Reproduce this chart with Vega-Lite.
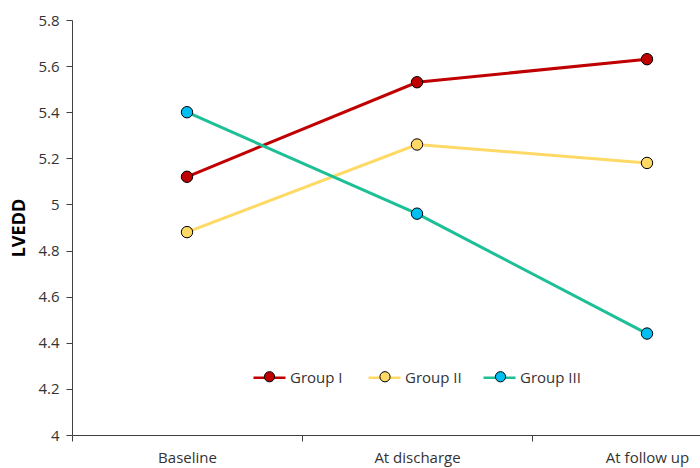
{
  "$schema": "https://vega.github.io/schema/vega-lite/v6.json",
  "width": 628,
  "height": 415,
  "autosize": {"type": "none"},
  "padding": {"left": 72, "top": 20, "right": 0, "bottom": 33},
  "background": "white",
  "config": {
    "view": {"stroke": null},
    "font": "Open Sans",
    "axis": {
      "grid": false,
      "domainColor": "#404040",
      "tickColor": "#404040",
      "labelColor": "#333333",
      "labelFont": "Open Sans",
      "labelFontSize": 15,
      "domainWidth": 1,
      "tickWidth": 1,
      "tickSize": 6
    }
  },
  "resolve": {"legend": {"stroke": "independent", "fill": "independent"}},
  "data": {
    "values": [
      {"group": "Group I", "time": "Baseline", "value": 5.12},
      {"group": "Group I", "time": "At discharge", "value": 5.53},
      {"group": "Group I", "time": "At follow up", "value": 5.63},
      {"group": "Group II", "time": "Baseline", "value": 4.88},
      {"group": "Group II", "time": "At discharge", "value": 5.26},
      {"group": "Group II", "time": "At follow up", "value": 5.18},
      {"group": "Group III", "time": "Baseline", "value": 5.40},
      {"group": "Group III", "time": "At discharge", "value": 4.96},
      {"group": "Group III", "time": "At follow up", "value": 4.44}
    ]
  },
  "encoding": {
    "x": {
      "field": "time",
      "type": "nominal",
      "sort": ["Baseline", "At discharge", "At follow up"],
      "scale": {"type": "band", "range": [0, 690], "paddingInner": 0, "paddingOuter": 0},
      "axis": {"title": null, "labelAngle": 0, "tickBand": "extent", "labelPadding": 9}
    },
    "y": {
      "field": "value",
      "type": "quantitative",
      "scale": {"domain": [4, 5.8], "nice": false, "zero": false},
      "axis": {
        "values": [4, 4.2, 4.4, 4.6, 4.8, 5, 5.2, 5.4, 5.6, 5.8],
        "format": "~f",
        "title": "LVEDD",
        "titleFont": "Open Sans",
        "titleFontSize": 18,
        "titleFontWeight": "bold",
        "titleColor": "#000000",
        "titlePadding": 9,
        "labelPadding": 7
      }
    }
  },
  "layer": [
    {
      "mark": {"type": "line", "strokeWidth": 3},
      "encoding": {
        "order": {"value": null},
        "stroke": {
          "field": "group",
          "type": "nominal",
          "scale": {"domain": ["Group I", "Group II", "Group III"], "range": ["#C00000", "#FFD966", "#1DBF97"]},
          "legend": {
            "title": null,
            "orient": "none",
            "legendX": 180,
            "legendY": 340,
            "direction": "horizontal",
            "gridAlign": "all",
            "symbolType": "M -1 0 L 1 0",
            "symbolSize": 1024,
            "symbolStrokeWidth": 2.5,
            "labelFont": "Open Sans",
            "labelFontSize": 15,
            "labelColor": "#333333",
            "labelOffset": 3,
            "columnPadding": 12
          }
        }
      }
    },
    {
      "mark": {"type": "point", "filled": true, "size": 130, "stroke": "#000000", "strokeWidth": 1, "opacity": 1},
      "encoding": {
        "fill": {
          "field": "group",
          "type": "nominal",
          "scale": {"domain": ["Group I", "Group II", "Group III"], "range": ["#C00000", "#FFD966", "#00BDF2"]},
          "legend": {
            "title": null,
            "orient": "none",
            "legendX": 181,
            "legendY": 340,
            "direction": "horizontal",
            "gridAlign": "all",
            "symbolType": "M -0.32 0 A 0.32 0.32 0 1 0 0.32 0 A 0.32 0.32 0 1 0 -0.32 0 Z",
            "symbolSize": 1024,
            "symbolStrokeColor": "#000000",
            "symbolStrokeWidth": 1,
            "symbolOpacity": 1,
            "labelExpr": "''",
            "labelFontSize": 15,
            "labelOffset": 3,
            "columnPadding": 79.5
          }
        }
      }
    }
  ]
}
